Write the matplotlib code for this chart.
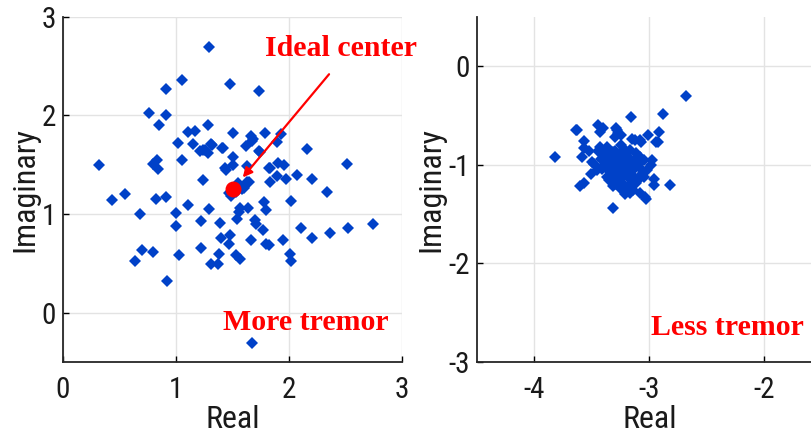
import matplotlib as mpl
from matplotlib import font_manager
mpl.rcParams['axes.unicode_minus'] = False
import matplotlib.pyplot as plt

# use a narrow sans when there is one, the labels are tall and tight
names = {f.name for f in font_manager.fontManager.ttflist}
narrow = [n for n in ('Liberation Sans Narrow', 'Arial Narrow', 'Roboto Condensed',
                      'Open Sans Condensed', 'DejaVu Sans Condensed') if n in names]
if narrow:
    sans = narrow[0]
    fs_tick, fs_label = 21, 23
else:
    sans = 'Liberation Sans'
    fs_tick, fs_label = 17.5, 20
mpl.rcParams['font.family'] = [sans, 'DejaVu Sans']

# scatter of the complex values, large tremor
more_re = [1.29, 1.05, 1.48, 1.73, 0.91, 0.76, 0.91, 0.85, 1.28, 1.11, 1.17, 1.50, 1.79, 1.93,
           1.66, 1.68, 1.62, 1.89, 1.02, 1.15, 1.31, 1.24, 1.28, 1.41, 1.73, 2.16, 1.50, 1.05,
           0.32, 0.80, 0.83, 0.84, 1.50, 1.44, 1.82, 1.90, 1.96, 1.63, 2.51, 1.89, 2.07, 1.24,
           1.83, 1.97, 2.20, 1.65, 1.55, 1.60, 1.47, 1.53, 2.34, 0.55, 0.43, 0.82, 0.91, 1.11,
           2.02, 1.57, 1.64, 1.56, 1.29, 1.00, 0.68, 1.78, 1.80, 1.54, 1.70, 1.71, 1.22, 1.39,
           2.74, 1.00, 2.52, 2.11, 1.77, 2.36, 1.48, 1.40, 1.66, 1.95, 2.20, 1.80, 1.82, 1.47,
           1.22, 0.70, 0.80, 1.38, 1.53, 1.03, 2.01, 0.64, 1.57, 2.02, 1.31, 1.37, 0.92, 1.67,
           1.21, 1.63, 1.58, 1.49, 1.83, 1.74, 1.26, 1.32, 1.42, 1.43, 1.67]
more_im = [2.69, 2.36, 2.32, 2.25, 2.27, 2.03, 2.00, 1.90, 1.90, 1.83, 1.84, 1.82, 1.82, 1.81,
           1.79, 1.76, 1.69, 1.73, 1.72, 1.71, 1.71, 1.65, 1.62, 1.67, 1.64, 1.66, 1.58, 1.55,
           1.50, 1.51, 1.55, 1.46, 1.50, 1.45, 1.47, 1.52, 1.50, 1.49, 1.51, 1.39, 1.40, 1.35,
           1.33, 1.36, 1.36, 1.33, 1.32, 1.26, 1.21, 1.22, 1.22, 1.20, 1.14, 1.15, 1.17, 1.09,
           1.13, 1.06, 1.06, 1.02, 1.05, 1.01, 1.00, 1.12, 1.04, 0.95, 0.94, 0.90, 0.93, 0.91,
           0.90, 0.88, 0.86, 0.86, 0.84, 0.81, 0.79, 0.76, 0.74, 0.74, 0.76, 0.70, 0.69, 0.70,
           0.66, 0.64, 0.62, 0.60, 0.59, 0.58, 0.60, 0.52, 0.54, 0.52, 0.49, 0.49, 0.32, -0.31,
           1.64, 1.33, 1.25, 1.18, 1.47, 1.63, 1.65, 1.70, 1.67, 1.47, 1.74]

# small tremor
less_re = [-2.68, -2.88, -3.16, -2.92, -3.01, -3.08, -2.94, -3.64, -3.45, -3.40, -3.29, -3.27,
           -3.30, -3.15, -3.57, -3.82, -2.82, -3.32, -3.03, -3.60, -3.57, -3.63, -3.43, -3.28,
           -3.25, -3.13, -3.07, -2.93, -3.57, -3.59, -3.17, -3.22, -3.04, -3.08, -2.96, -2.96,
           -2.99, -2.98, -3.05, -3.51, -3.48, -3.43, -3.37, -3.32, -3.28, -3.22, -3.17, -3.12,
           -3.08, -3.25, -3.19, -3.14, -3.31, -3.37, -3.28, -3.19, -3.11, -3.17, -3.41, -3.35,
           -3.09, -3.05, -3.02, -3.32, -3.40, -3.45, -3.22, -3.24, -3.20, -3.15, -3.30, -3.35,
           -3.42, -3.38, -3.34, -3.30, -3.26, -3.22, -3.18, -3.14, -3.10, -3.06, -3.40, -3.36,
           -3.32, -3.28, -3.24, -3.20, -3.16, -3.12, -3.08, -3.36, -3.32, -3.28, -3.24, -3.20,
           -3.16, -3.12, -3.30, -3.26, -3.22, -3.18, -3.14, -3.50, -3.46, -3.53, -3.25, -3.21]
less_im = [-0.30, -0.48, -0.52, -0.67, -0.70, -0.75, -0.77, -0.65, -0.60, -0.63, -0.63, -0.68,
           -0.72, -0.74, -0.76, -0.92, -1.21, -1.44, -1.35, -1.22, -1.18, -0.65, -0.67, -0.65,
           -0.70, -0.75, -0.77, -0.77, -0.83, -0.92, -1.29, -1.26, -1.33, -1.29, -1.21, -1.14,
           -1.00, -0.95, -1.12, -1.09, -0.99, -0.82, -0.82, -0.87, -0.95, -0.92, -0.85, -0.88,
           -0.92, -1.02, -1.02, -1.05, -1.09, -1.12, -1.16, -1.12, -1.16, -1.21, -1.04, -0.99,
           -1.02, -0.95, -1.05, -1.22, -0.88, -0.86, -1.06, -0.98, -0.90, -1.10, -1.00, -1.15,
           -0.94, -0.97, -0.92, -0.86, -0.89, -0.84, -0.93, -0.96, -0.99, -1.08, -1.01, -1.05,
           -1.00, -1.03, -0.96, -0.99, -1.06, -1.00, -1.11, -1.12, -1.08, -1.07, -1.12, -1.09,
           -1.15, -1.18, -1.19, -1.24, -1.20, -1.23, -1.26, -0.97, -1.05, -0.86, -0.80, -1.30]

center = (1.5, 1.25)
arrow_start = (2.37, 2.44)

blue = '#0041C8'


def style(ax):
    ax.grid(True, color='#e3e3e3', linewidth=1)
    ax.set_axisbelow(True)
    ax.spines['top'].set_visible(False)
    ax.spines['right'].set_visible(False)
    for s in ('left', 'bottom'):
        ax.spines[s].set_linewidth(1.3)
        ax.spines[s].set_color('#262626')
    ax.tick_params(direction='in', length=4, width=1, labelsize=fs_tick, labelcolor='#1a1a1a')
    ax.tick_params(axis='x', pad=10)
    ax.tick_params(axis='y', pad=5)
    ax.set_xlabel('Real', fontsize=fs_label, color='#1a1a1a', labelpad=1)
    ax.set_ylabel('Imaginary', fontsize=fs_label, labelpad=2, color='#1a1a1a')


fig = plt.figure(figsize=(8.12, 4.33), dpi=100)
ax1 = fig.add_axes([0.0776, 0.164, 0.4175, 0.797])
ax2 = fig.add_axes([0.5874, 0.164, 0.4249, 0.797])

ax1.plot(more_re, more_im, 'D', color=blue, markersize=6.5, markeredgewidth=0)
ax1.plot(*center, 'o', color='red', markersize=10.5)
ax1.annotate('', xy=(1.575, 1.35), xytext=arrow_start,
             arrowprops=dict(arrowstyle='-|>', color='red', lw=1.6, mutation_scale=14))
ax1.text(1.79, 2.68, 'Ideal center', color='red', fontsize=21.5, fontweight='bold',
         family='Liberation Serif', ha='left', va='center')
ax1.text(1.42, -0.10, 'More tremor', color='red', fontsize=21.5, fontweight='bold',
         family='Liberation Serif', ha='left', va='center')
ax1.set_xlim(0, 3)
ax1.set_ylim(-0.5, 3)
ax1.set_xticks([0, 1, 2, 3])
ax1.set_yticks([0, 1, 2, 3])
style(ax1)

ax2.plot(less_re, less_im, 'D', color=blue, markersize=6.5, markeredgewidth=0)
ax2.text(-2.99, -2.65, 'Less tremor', color='red', fontsize=21.5, fontweight='bold',
         family='Liberation Serif', ha='left', va='center')
ax2.set_xlim(-4.5, -1.5)
ax2.set_ylim(-3, 0.5)
ax2.set_xticks([-4, -3, -2])
ax2.set_yticks([-3, -2, -1, 0])
style(ax2)

plt.savefig('out.png', dpi=100)
